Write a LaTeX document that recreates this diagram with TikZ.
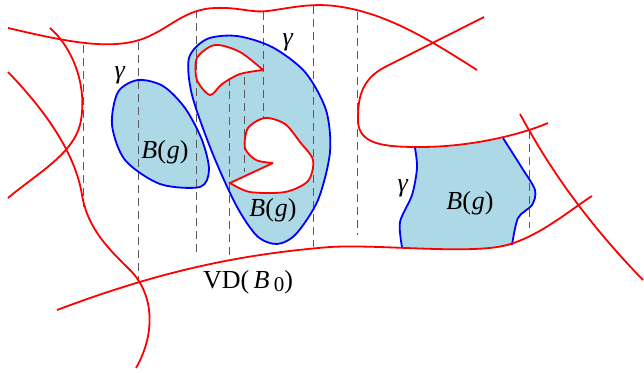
\documentclass[tikz,border=0pt]{standalone}
\usepackage{fontspec}
\setmainfont{Liberation Serif}
\definecolor{lightblue}{RGB}{173,216,230}
\begin{document}
\begin{tikzpicture}[x=1pt,y=-1pt,
  redline/.style={draw=red, line width=1.8pt},
  blueline/.style={draw=blue, line width=1.8pt},
  blobfill/.style={fill=lightblue},
  vdash/.style={draw=black!65, line width=1pt, dash pattern=on 8pt off 5pt},
  lab/.style={font=\fontsize{26}{30}\selectfont, inner sep=0pt}]
\useasboundingbox (0,0) rectangle (644,372);

% blob 3 fill (right)
\fill[lightblue] plot[smooth] coordinates {(402,247) (400,222) (412,195) (417,168) (415,148)}
  .. controls (450,147) and (480,143) .. (505,138)
  -- plot[smooth] coordinates {(503,138) (522,168) (535,190) (532,205) (518,218) (512,245)}
  .. controls (480,252) and (440,250) .. (402,247) -- cycle;

% blob 1 & 2 fill
\path[blobfill] plot[smooth cycle] coordinates {(138,80) (118,92) (112,125) (125,160) (160,184) (200,187) (209,170) (202,140) (185,108) (163,86)};
\path[blobfill] plot[smooth cycle] coordinates {(189,58) (207,39) (237,36) (272,47) (305,72) (326,110) (330,152) (318,200) (296,234) (277,244) (257,236) (236,205) (212,152) (192,95)};
% holes
\path[fill=white] plot[smooth] coordinates {(263,70) (240,52) (215,45) (197,58) (197,80) (210,95) (222,84) (240,74) (263,70)} -- cycle;
\path[fill=white] (273,163) -- plot[smooth] coordinates {(230,183) (250,192) (285,192) (308,181) (313,160) (300,142) (285,124) (265,118) (248,128) (245,148) (256,160) (273,163)} -- cycle;

% dashed verticals
\draw[vdash] (83,45) -- (83,207);
\draw[vdash] (138,42) -- (138,280);
\draw[vdash] (196,10) -- (196,255);
\draw[vdash] (229,78) -- (229,258);
\draw[vdash] (244,77) -- (244,172);
\draw[vdash] (263,12) -- (263,118);
\draw[vdash] (313,6) -- (313,247);
\draw[vdash] (357,12) -- (357,235);
\draw[vdash] (529,131) -- (529,228);

% blue outlines
\draw[blueline] plot[smooth cycle] coordinates {(138,80) (118,92) (112,125) (125,160) (160,184) (200,187) (209,170) (202,140) (185,108) (163,86)};
\draw[blueline] plot[smooth cycle] coordinates {(189,58) (207,39) (237,36) (272,47) (305,72) (326,110) (330,152) (318,200) (296,234) (277,244) (257,236) (236,205) (212,152) (192,95)};
\draw[blueline] plot[smooth] coordinates {(402,247) (400,222) (412,195) (417,168) (415,148)};
\draw[blueline] plot[smooth] coordinates {(503,138) (522,168) (535,190) (532,205) (518,218) (512,245)};

% red holes
\draw[redline] plot[smooth] coordinates {(263,70) (240,52) (215,45) (197,58) (197,80) (210,95) (222,84) (240,74) (263,70)};
\draw[redline] (273,163) -- plot[smooth] coordinates {(230,183) (250,192) (285,192) (308,181) (313,160) (300,142) (285,124) (265,118) (248,128) (245,148) (256,160) (273,163)};

% red curves
\draw[redline] (8,28) .. controls (60,40) and (110,52) .. (145,38)
  .. controls (170,28) and (185,9) .. (215,8)
  .. controls (240,7) and (250,13) .. (268,11)
  .. controls (290,8) and (310,3) .. (335,6)
  .. controls (385,12) and (430,40) .. (477,70);
\draw[redline] (484,17) -- (385,67) .. controls (360,80) and (358,100) .. (358,120)
  .. controls (358,145) and (385,147) .. (420,147)
  .. controls (470,147) and (520,135) .. (548,123);
\draw[redline] (50,28) .. controls (75,50) and (88,90) .. (80,125)
  .. controls (72,155) and (35,175) .. (8,198);
\draw[redline] (8,72) .. controls (40,105) and (75,150) .. (82,195)
  .. controls (88,230) and (110,250) .. (130,270)
  .. controls (155,295) and (155,335) .. (136,368);
\draw[redline] (57,310) .. controls (150,275) and (230,255) .. (330,247)
  .. controls (380,244) and (470,255) .. (507,245)
  .. controls (540,236) and (570,210) .. (592,196);
\draw[redline] (520,114) .. controls (545,160) and (580,215) .. (643,280);

% labels
\node[lab] (g1) at (120,75) {\textit{γ}};
\node[lab] (g2) at (288,42) {\textit{γ}};
\node[lab] (g3) at (403,188) {\textit{γ}};
\node[lab] (b1) at (165,152) {\textit{B}(\kern1pt\textit{g})};
\node[lab] (b2) at (273,210) {\textit{B}(\kern1pt\textit{g})};
\node[lab] (b3) at (470,203) {\textit{B}(\kern1pt\textit{g})};
\node[lab] (vd) at (248,282) {VD(\,\textit{B}\,{\fontsize{21}{24}\selectfont\raisebox{-3pt}{0}})};
\end{tikzpicture}
\end{document}
